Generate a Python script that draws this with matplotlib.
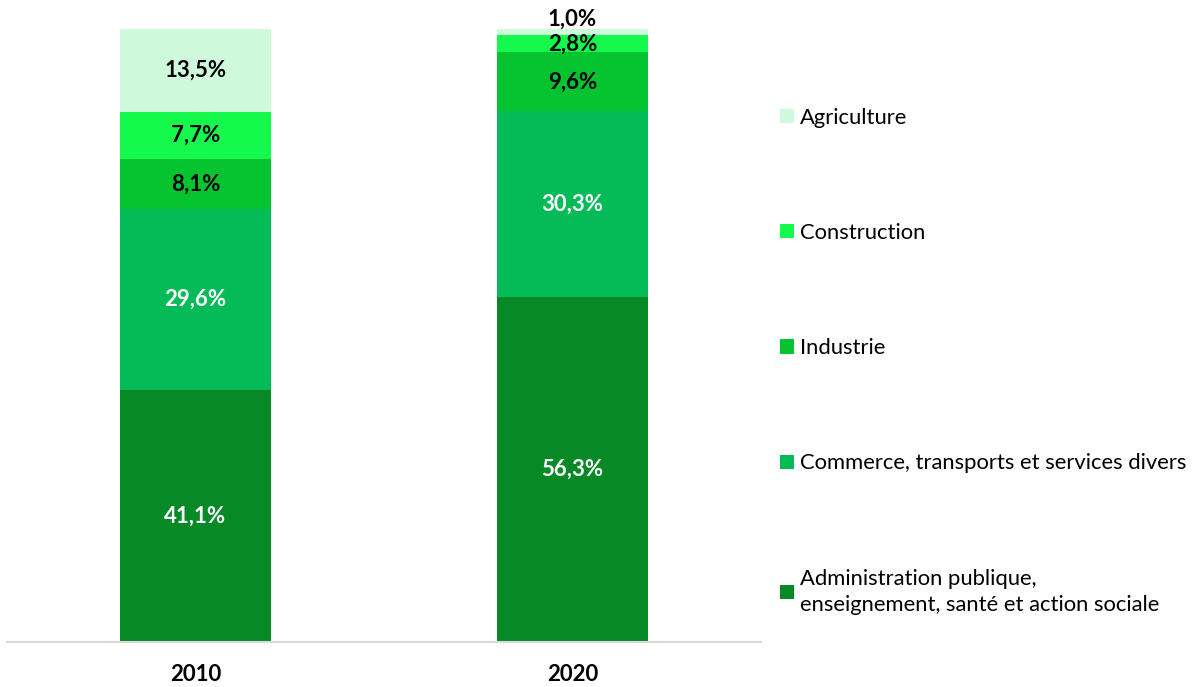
import matplotlib.pyplot as plt
import numpy as np

plt.rcParams['font.family'] = ['Lato', 'DejaVu Sans']

years = ['2010', '2020']
sectors = ['Administration publique,\nenseignement, santé et action sociale',
           'Commerce, transports et services divers',
           'Industrie',
           'Construction',
           'Agriculture']
administration = [41.1, 56.3]
commerce = [29.6, 30.3]
industrie = [8.1, 9.6]
construction = [7.7, 2.8]
agriculture = [13.5, 1.0]

series = [administration, commerce, industrie, construction, agriculture]
colors = ['#078A26', '#05BB58', '#06C330', '#14F94C', '#CEFADB']
text_colors = ['white', 'white', 'black', 'black', 'black']

fig = plt.figure(figsize=(11.99, 6.87), dpi=100)
ax = fig.add_axes([7 / 1199, 45 / 687, 754 / 1199, 613 / 687])

x = np.arange(len(years))
bottom = np.zeros(len(years))
for vals, name, col, tcol in zip(series, sectors, colors, text_colors):
    ax.bar(x, vals, 0.4, bottom=bottom, color=col, label=name)
    for xi, v, b in zip(x, vals, bottom):
        lab = f'{v:.1f}%'.replace('.', ',')
        if v < 2:
            # tiny top segment: label sits just above the bar
            ax.annotate(lab, (xi, b + v), xytext=(0, 7), textcoords='offset points',
                        ha='center', va='center', color=tcol, fontsize=16, fontweight='bold',
                        annotation_clip=False)
        else:
            ax.text(xi, b + v / 2, lab, ha='center', va='center',
                    color=tcol, fontsize=16, fontweight='bold')
    bottom += vals

ax.set_xlim(-0.5, 1.5)
ax.set_ylim(0, 100)
ax.set_xticks(x)
ax.set_xticklabels(years, fontsize=16, fontweight='bold')
ax.tick_params(axis='x', length=0, pad=16)
ax.set_yticks([])
for s in ['top', 'right', 'left']:
    ax.spines[s].set_visible(False)
ax.spines['bottom'].set_color('#D9D9D9')
ax.spines['bottom'].set_linewidth(1.5)

handles, labels = ax.get_legend_handles_labels()
leg = fig.legend(handles[::-1], labels[::-1], loc='upper left',
                 bbox_to_anchor=(760 / 1199, 1 - 88 / 687),
                 frameon=False, fontsize=15.8, handlelength=0.63, handleheight=0.63,
                 handletextpad=0.3, labelspacing=4.34)
for t in leg.get_texts():
    t.set_linespacing(1.4)

fig.savefig('out.png', dpi=100)
